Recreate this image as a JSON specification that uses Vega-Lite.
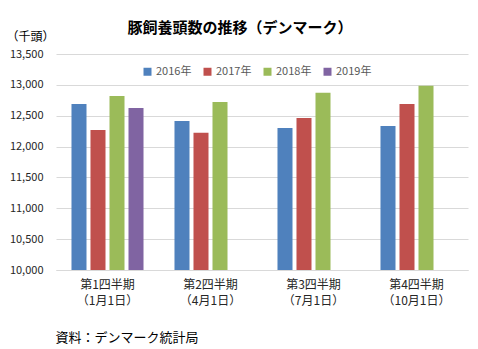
{
  "$schema": "https://vega.github.io/schema/vega-lite/v6.json",
  "autosize": {"type": "none"},
  "width": 412,
  "height": 216,
  "padding": {"left": 56, "top": 54, "right": 10, "bottom": 79},
  "background": "white",
  "config": {
    "font": "Noto Sans CJK JP",
    "view": {"stroke": null}
  },
  "title": {
    "text": "豚飼養頭数の推移（デンマーク）",
    "font": "Noto Sans CJK JP",
    "fontSize": 15,
    "fontWeight": "bold",
    "color": "#000000",
    "anchor": "middle",
    "frame": "group",
    "dx": -22,
    "offset": -6
  },
  "data": {
    "values": [
      {"q": "第1四半期|（1月1日）", "year": "2016年", "v": 12690},
      {"q": "第1四半期|（1月1日）", "year": "2017年", "v": 12268},
      {"q": "第1四半期|（1月1日）", "year": "2018年", "v": 12819},
      {"q": "第1四半期|（1月1日）", "year": "2019年", "v": 12625},
      {"q": "第2四半期|（4月1日）", "year": "2016年", "v": 12414},
      {"q": "第2四半期|（4月1日）", "year": "2017年", "v": 12224},
      {"q": "第2四半期|（4月1日）", "year": "2018年", "v": 12722},
      {"q": "第3四半期|（7月1日）", "year": "2016年", "v": 12300},
      {"q": "第3四半期|（7月1日）", "year": "2017年", "v": 12462},
      {"q": "第3四半期|（7月1日）", "year": "2018年", "v": 12872},
      {"q": "第4四半期|（10月1日）", "year": "2016年", "v": 12333},
      {"q": "第4四半期|（10月1日）", "year": "2017年", "v": 12690},
      {"q": "第4四半期|（10月1日）", "year": "2018年", "v": 12986}
    ]
  },
  "mark": {"type": "bar", "clip": true},
  "encoding": {
    "x": {
      "field": "q",
      "type": "nominal",
      "sort": ["第1四半期|（1月1日）", "第2四半期|（4月1日）", "第3四半期|（7月1日）", "第4四半期|（10月1日）"],
      "scale": {"paddingInner": 0, "paddingOuter": 0},
      "axis": {
        "title": "資料：デンマーク統計局",
        "titleFont": "Noto Sans CJK JP",
        "titleFontSize": 13,
        "titleFontWeight": "normal",
        "titleColor": "#000000",
        "titleAnchor": "start",
        "titleAlign": "left",
        "titleX": -1,
        "titleY": 61,
        "labelAngle": 0,
        "labelExpr": "split(datum.value, '|')",
        "labelFontSize": 12,
        "labelColor": "#262626",
        "labelPadding": 9,
        "labelLineHeight": 16,
        "ticks": false,
        "domainColor": "#D9D9D9",
        "grid": false
      }
    },
    "xOffset": {
      "field": "year",
      "type": "nominal",
      "sort": ["2016年", "2017年", "2018年", "2019年"],
      "scale": {"paddingInner": 0.21, "paddingOuter": 0.815}
    },
    "y": {
      "field": "v",
      "type": "quantitative",
      "scale": {"domain": [10000, 13500], "nice": false, "zero": false},
      "axis": {
        "values": [10000, 10500, 11000, 11500, 12000, 12500, 13000, 13500],
        "format": ",d",
        "title": "（千頭）",
        "titleAngle": 0,
        "titleX": -50,
        "titleY": -18,
        "titleAlign": "left",
        "titleBaseline": "middle",
        "titleFontSize": 12,
        "titleFontWeight": "normal",
        "titleColor": "#000000",
        "labelFontSize": 11,
        "labelColor": "#262626",
        "labelPadding": 13,
        "ticks": false,
        "domain": false,
        "gridColor": "#D9D9D9"
      }
    },
    "color": {
      "field": "year",
      "type": "nominal",
      "scale": {
        "domain": ["2016年", "2017年", "2018年", "2019年"],
        "range": ["#4F81BD", "#C0504D", "#9BBB59", "#8064A2"]
      },
      "legend": {
        "title": null,
        "orient": "none",
        "direction": "horizontal",
        "legendX": 86,
        "legendY": 12,
        "symbolType": "square",
        "symbolSize": 64,
        "symbolStrokeWidth": 0,
        "labelFontSize": 11,
        "labelColor": "#595959",
        "labelOffset": 3,
        "columnPadding": 10
      }
    }
  }
}
